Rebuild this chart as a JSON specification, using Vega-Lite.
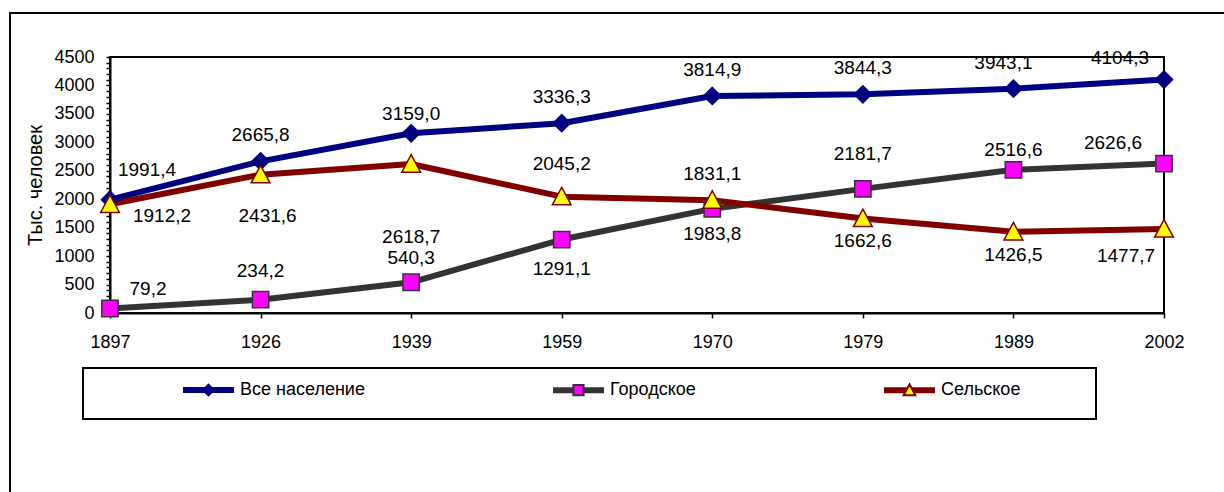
{
  "$schema": "https://vega.github.io/schema/vega-lite/v6.json",
  "width": 1054,
  "height": 256,
  "autosize": {"type": "none"},
  "padding": {"left": 110, "top": 57, "right": 60, "bottom": 179},
  "background": "white",
  "data": {
    "values": [
      {"series": "Все население", "year": "1897", "value": 1991.4},
      {"series": "Все население", "year": "1926", "value": 2665.8},
      {"series": "Все население", "year": "1939", "value": 3159.0},
      {"series": "Все население", "year": "1959", "value": 3336.3},
      {"series": "Все население", "year": "1970", "value": 3814.9},
      {"series": "Все население", "year": "1979", "value": 3844.3},
      {"series": "Все население", "year": "1989", "value": 3943.1},
      {"series": "Все население", "year": "2002", "value": 4104.3},
      {"series": "Городское", "year": "1897", "value": 79.2},
      {"series": "Городское", "year": "1926", "value": 234.2},
      {"series": "Городское", "year": "1939", "value": 540.3},
      {"series": "Городское", "year": "1959", "value": 1291.1},
      {"series": "Городское", "year": "1970", "value": 1831.1},
      {"series": "Городское", "year": "1979", "value": 2181.7},
      {"series": "Городское", "year": "1989", "value": 2516.6},
      {"series": "Городское", "year": "2002", "value": 2626.6},
      {"series": "Сельское", "year": "1897", "value": 1912.2},
      {"series": "Сельское", "year": "1926", "value": 2431.6},
      {"series": "Сельское", "year": "1939", "value": 2618.7},
      {"series": "Сельское", "year": "1959", "value": 2045.2},
      {"series": "Сельское", "year": "1970", "value": 1983.8},
      {"series": "Сельское", "year": "1979", "value": 1662.6},
      {"series": "Сельское", "year": "1989", "value": 1426.5},
      {"series": "Сельское", "year": "2002", "value": 1477.7}
    ]
  },
  "encoding": {
    "x": {
      "field": "year",
      "type": "ordinal",
      "scale": {"type": "point", "padding": 0},
      "axis": {
        "title": null,
        "labelAngle": 0,
        "domainWidth": 2,
        "tickWidth": 1.5,
        "tickSize": 5,
        "labelPadding": 15
      }
    },
    "y": {
      "field": "value",
      "type": "quantitative",
      "scale": {"domain": [0, 4500], "nice": false},
      "axis": {
        "title": "Тыс. человек",
        "titlePadding": 8,
        "titleFontSize": 20,
        "values": [0,100,200,300,400,500,600,700,800,900,1000,1100,1200,1300,1400,1500,1600,1700,1800,1900,2000,2100,2200,2300,2400,2500,2600,2700,2800,2900,3000,3100,3200,3300,3400,3500,3600,3700,3800,3900,4000,4100,4200,4300,4400,4500],
        "format": "d",
        "labelExpr": "datum.value % 500 == 0 ? datum.label : ''",
        "labelOverlap": false,
        "labelFlush": false,
        "domainWidth": 2,
        "tickWidth": 1.5,
        "tickSize": 4,
        "labelPadding": 12
      }
    }
  },
  "layer": [
    {
      "mark": {"type": "line", "strokeWidth": 6, "strokeJoin": "round"},
      "encoding": {
        "stroke": {
          "field": "series",
          "type": "nominal",
          "scale": {"domain": ["Все население", "Городское", "Сельское"], "range": ["#000080", "#333333", "#800000"]},
          "legend": null
        }
      }
    },
    {
      "mark": {"type": "point", "filled": true, "size": 6659, "strokeWidth": 1.5, "opacity": 1},
      "encoding": {
        "shape": {
          "field": "series",
          "type": "nominal",
          "scale": {
            "domain": ["Все население", "Городское", "Сельское"],
            "range": [
              "M0,-0.21L0.21,0L0,0.21L-0.21,0Z",
              "M-0.2,-0.2H0.2V0.2H-0.2Z",
              "M0,-0.23L0.23,0.2H-0.23Z"
            ]
          },
          "legend": null
        },
        "fill": {
          "field": "series",
          "type": "nominal",
          "scale": {"domain": ["Все население", "Городское", "Сельское"], "range": ["#000080", "#FF00FF", "#FFFF00"]},
          "legend": null
        },
        "stroke": {
          "field": "series",
          "type": "nominal",
          "scale": {"domain": ["Все население", "Городское", "Сельское"], "range": ["#000080", "#333333", "#800000"]},
          "legend": null
        }
      }
    },
    {
      "transform": [{"filter": "datum.value < 0"}],
      "mark": {"type": "point", "filled": true, "opacity": 1},
      "encoding": {
        "shape": {
          "field": "series",
          "type": "nominal",
          "scale": {
            "domain": ["Все население", "Городское", "Сельское"],
            "range": [
              "M-1,-0.078H1M-1,-0.027H1M-1,0.027H1M-1,0.078H1M0,-0.21L0.21,0L0,0.21L-0.21,0Z",
              "M-1,-0.078H-0.2M0.2,-0.078H1M-1,-0.027H-0.2M0.2,-0.027H1M-1,0.027H-0.2M0.2,0.027H1M-1,0.078H-0.2M0.2,0.078H1M-0.2,-0.2H0.2V0.2H-0.2Z",
              "M-1,-0.078H-0.08M0.08,-0.078H1M-1,-0.027H-0.11M0.11,-0.027H1M-1,0.027H-0.13M0.13,0.027H1M-1,0.078H-0.16M0.16,0.078H1M0,-0.23L0.23,0.2H-0.23Z"
            ]
          }
        },
        "fill": {
          "field": "series",
          "type": "nominal",
          "scale": {"domain": ["Все население", "Городское", "Сельское"], "range": ["#000080", "#FF00FF", "#FFFF00"]},
          "legend": {
            "orient": "none",
            "legendX": 72,
            "legendY": 306.5,
            "direction": "horizontal",
            "columns": 3,
            "columnPadding": 184,
            "symbolSize": 2601,
            "symbolStrokeWidth": 2,
            "symbolOpacity": 1,
            "labelOffset": 5,
            "labelLimit": 400,
            "title": null,
            "padding": 0
          }
        },
        "stroke": {
          "field": "series",
          "type": "nominal",
          "scale": {"domain": ["Все население", "Городское", "Сельское"], "range": ["#000080", "#333333", "#800000"]}
        }
      }
    },
    {
      "transform": [{"filter": {"and": [{"field": "series", "equal": "Все население"}, {"field": "year", "oneOf": ["1926", "1959", "1970", "1979"]}]}}],
      "mark": {"type": "text", "dy": -26},
      "encoding": {"text": {"field": "value", "type": "quantitative", "format": ".1f"}}
    },
    {
      "transform": [{"filter": {"and": [{"field": "series", "equal": "Все население"}, {"field": "year", "oneOf": ["1939"]}]}}],
      "mark": {"type": "text", "dy": -19},
      "encoding": {"text": {"field": "value", "type": "quantitative", "format": ".1f"}}
    },
    {
      "transform": [{"filter": {"and": [{"field": "series", "equal": "Все население"}, {"field": "year", "oneOf": ["1989"]}]}}],
      "mark": {"type": "text", "dx": -10, "dy": -26},
      "encoding": {"text": {"field": "value", "type": "quantitative", "format": ".1f"}}
    },
    {
      "transform": [{"filter": {"and": [{"field": "series", "equal": "Все население"}, {"field": "year", "oneOf": ["1897"]}]}}],
      "mark": {"type": "text", "dx": 37, "dy": -30},
      "encoding": {"text": {"field": "value", "type": "quantitative", "format": ".1f"}}
    },
    {
      "transform": [{"filter": {"and": [{"field": "series", "equal": "Все население"}, {"field": "year", "oneOf": ["2002"]}]}}],
      "mark": {"type": "text", "dx": -44, "dy": -22},
      "encoding": {"text": {"field": "value", "type": "quantitative", "format": ".1f"}}
    },
    {
      "transform": [{"filter": {"and": [{"field": "series", "equal": "Городское"}, {"field": "year", "oneOf": ["1926"]}]}}],
      "mark": {"type": "text", "dy": -29},
      "encoding": {"text": {"field": "value", "type": "quantitative", "format": ".1f"}}
    },
    {
      "transform": [{"filter": {"and": [{"field": "series", "equal": "Городское"}, {"field": "year", "oneOf": ["1939"]}]}}],
      "mark": {"type": "text", "dy": -24},
      "encoding": {"text": {"field": "value", "type": "quantitative", "format": ".1f"}}
    },
    {
      "transform": [{"filter": {"and": [{"field": "series", "equal": "Городское"}, {"field": "year", "oneOf": ["1970", "1979"]}]}}],
      "mark": {"type": "text", "dy": -35},
      "encoding": {"text": {"field": "value", "type": "quantitative", "format": ".1f"}}
    },
    {
      "transform": [{"filter": {"and": [{"field": "series", "equal": "Городское"}, {"field": "year", "oneOf": ["1989"]}]}}],
      "mark": {"type": "text", "dy": -20},
      "encoding": {"text": {"field": "value", "type": "quantitative", "format": ".1f"}}
    },
    {
      "transform": [{"filter": {"and": [{"field": "series", "equal": "Городское"}, {"field": "year", "oneOf": ["1959"]}]}}],
      "mark": {"type": "text", "dy": 29},
      "encoding": {"text": {"field": "value", "type": "quantitative", "format": ".1f"}}
    },
    {
      "transform": [{"filter": {"and": [{"field": "series", "equal": "Городское"}, {"field": "year", "oneOf": ["1897"]}]}}],
      "mark": {"type": "text", "dx": 38, "dy": -19},
      "encoding": {"text": {"field": "value", "type": "quantitative", "format": ".1f"}}
    },
    {
      "transform": [{"filter": {"and": [{"field": "series", "equal": "Городское"}, {"field": "year", "oneOf": ["2002"]}]}}],
      "mark": {"type": "text", "dx": -51, "dy": -21},
      "encoding": {"text": {"field": "value", "type": "quantitative", "format": ".1f"}}
    },
    {
      "transform": [{"filter": {"and": [{"field": "series", "equal": "Сельское"}, {"field": "year", "oneOf": ["1959"]}]}}],
      "mark": {"type": "text", "dy": -33},
      "encoding": {"text": {"field": "value", "type": "quantitative", "format": ".1f"}}
    },
    {
      "transform": [{"filter": {"and": [{"field": "series", "equal": "Сельское"}, {"field": "year", "oneOf": ["1970"]}]}}],
      "mark": {"type": "text", "dy": 34},
      "encoding": {"text": {"field": "value", "type": "quantitative", "format": ".1f"}}
    },
    {
      "transform": [{"filter": {"and": [{"field": "series", "equal": "Сельское"}, {"field": "year", "oneOf": ["1979", "1989"]}]}}],
      "mark": {"type": "text", "dy": 23},
      "encoding": {"text": {"field": "value", "type": "quantitative", "format": ".1f"}}
    },
    {
      "transform": [{"filter": {"and": [{"field": "series", "equal": "Сельское"}, {"field": "year", "oneOf": ["1926"]}]}}],
      "mark": {"type": "text", "dx": 7, "dy": 41},
      "encoding": {"text": {"field": "value", "type": "quantitative", "format": ".1f"}}
    },
    {
      "transform": [{"filter": {"and": [{"field": "series", "equal": "Сельское"}, {"field": "year", "oneOf": ["1939"]}]}}],
      "mark": {"type": "text", "dy": 73},
      "encoding": {"text": {"field": "value", "type": "quantitative", "format": ".1f"}}
    },
    {
      "transform": [{"filter": {"and": [{"field": "series", "equal": "Сельское"}, {"field": "year", "oneOf": ["1897"]}]}}],
      "mark": {"type": "text", "dx": 52, "dy": 12},
      "encoding": {"text": {"field": "value", "type": "quantitative", "format": ".1f"}}
    },
    {
      "transform": [{"filter": {"and": [{"field": "series", "equal": "Сельское"}, {"field": "year", "oneOf": ["2002"]}]}}],
      "mark": {"type": "text", "dx": -38, "dy": 27},
      "encoding": {"text": {"field": "value", "type": "quantitative", "format": ".1f"}}
    },
    {
      "mark": {"type": "point", "opacity": 0},
      "encoding": {
        "fill": {
          "field": "value",
          "type": "quantitative",
          "legend": {
            "type": "gradient",
            "orient": "none",
            "legendX": -100,
            "legendY": -44,
            "direction": "horizontal",
            "gradientLength": 1340,
            "gradientThickness": 700,
            "gradientOpacity": 0,
            "gradientStrokeWidth": 0,
            "labelOpacity": 0,
            "labelExpr": "''",
            "labelOffset": -300,
            "title": null,
            "padding": 0,
            "strokeColor": "black"
          }
        }
      }
    },
    {
      "mark": {"type": "point", "opacity": 0},
      "encoding": {
        "fill": {
          "field": "value",
          "type": "quantitative",
          "legend": {
            "type": "gradient",
            "orient": "none",
            "legendX": -27,
            "legendY": 311,
            "direction": "horizontal",
            "gradientLength": 1013,
            "gradientThickness": 51,
            "gradientOpacity": 0,
            "gradientStrokeWidth": 0,
            "labelOpacity": 0,
            "labelExpr": "''",
            "labelOffset": -30,
            "labelFontSize": 8,
            "title": null,
            "padding": 0,
            "strokeColor": "black"
          }
        }
      }
    }
  ],
  "resolve": {
    "scale": {"fill": "independent", "stroke": "independent", "shape": "independent"},
    "legend": {"fill": "independent", "stroke": "independent", "shape": "independent"}
  },
  "config": {
    "font": "Liberation Sans",
    "locale": {"number": {"decimal": ",", "thousands": " ", "grouping": [3], "currency": ["", ""]}},
    "view": {"stroke": "black", "strokeWidth": 2},
    "axis": {
      "labelFont": "Liberation Sans",
      "labelFontSize": 18,
      "labelColor": "black",
      "titleFont": "Liberation Sans",
      "titleFontSize": 18,
      "titleFontWeight": "normal",
      "titleColor": "black",
      "domainColor": "black",
      "tickColor": "black",
      "grid": false
    },
    "legend": {"labelFont": "Liberation Sans", "labelFontSize": 18, "labelColor": "black", "strokeWidth": 2},
    "text": {"font": "Liberation Sans", "fontSize": 19, "color": "black", "align": "center", "baseline": "middle"}
  }
}
